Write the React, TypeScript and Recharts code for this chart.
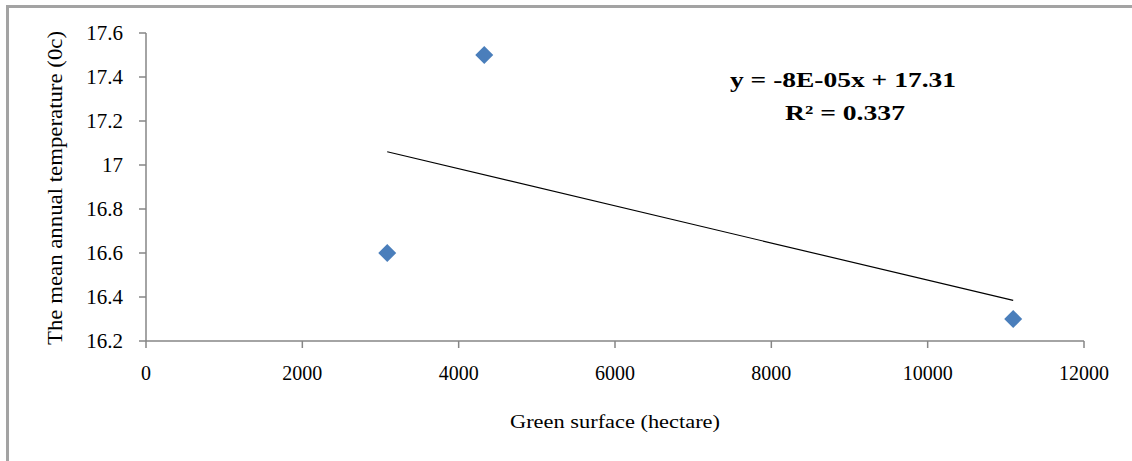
import React from "react";
import { ScatterChart, Scatter, XAxis, YAxis } from "recharts";

const greenSurface = [3086, 4327, 11094];
const meanTemp = [16.6, 17.5, 16.3];
const xTicks = [0, 2000, 4000, 6000, 8000, 10000, 12000];
const yTicks = [16.2, 16.4, 16.6, 16.8, 17, 17.2, 17.4, 17.6];
const equationText = "y = -8E-05x + 17.31";
const r2Text = "R\u00b2 = 0.337";

const points = greenSurface.map((x, i) => ({ x, y: meanTemp[i] }));

// least-squares trend line from the data
const n = greenSurface.length;
const mx = greenSurface.reduce((a, b) => a + b, 0) / n;
const my = meanTemp.reduce((a, b) => a + b, 0) / n;
let sxy = 0;
let sxx = 0;
for (let i = 0; i < n; i++) {
  sxy += (greenSurface[i] - mx) * (meanTemp[i] - my);
  sxx += (greenSurface[i] - mx) ** 2;
}
const slope = sxy / sxx;
const intercept = my - slope * mx;
const xMin = Math.min(...greenSurface);
const xMax = Math.max(...greenSurface);
const trendSegment = [
  { x: xMin, y: intercept + slope * xMin },
  { x: xMax, y: intercept + slope * xMax },
];

const FONT = "'Liberation Serif', 'Times New Roman', serif";

const Diamond = (props: any) => {
  const { cx, cy } = props;
  const s = 9;
  return (
    <path
      d={`M${cx},${cy - s} L${cx + s},${cy} L${cx},${cy + s} L${cx - s},${cy} Z`}
      fill="#4A7EBB"
    />
  );
};

const XTick = (props: any) => {
  const { x, y, payload } = props;
  return (
    <text x={x} y={y + 30} textAnchor="middle" fontFamily={FONT} fontSize={20} fill="#000">
      {payload.value}
    </text>
  );
};

const YTick = (props: any) => {
  const { x, y, payload } = props;
  return (
    <text x={x - 14} y={y + 7} textAnchor="end" fontFamily={FONT} fontSize={21} fill="#000">
      {payload.value}
    </text>
  );
};

export default function App() {
  return (
    <div style={{ position: "absolute", left: 0, top: 0, width: 1132, height: 461, overflow: "hidden", background: "#fff" }}>
      <div
        style={{
          position: "absolute",
          left: 6,
          top: 5,
          width: 1200,
          height: 600,
          borderLeft: "3px solid #a3a3a3",
          borderTop: "3px solid #a3a3a3",
        }}
      />
      <div style={{ position: "absolute", left: 0, top: 0 }}>
        <ScatterChart width={1132} height={461} margin={{ top: 33, right: 48, bottom: 60, left: 46 }}>
          <XAxis
            type="number"
            dataKey="x"
            domain={[0, 12000]}
            ticks={xTicks}
            interval={0}
            height={60}
            axisLine={{ stroke: "#868686", strokeWidth: 1.5 }}
            tickLine={{ stroke: "#868686", strokeWidth: 1.5 }}
            tickSize={7}
            tick={<XTick />}
            allowDataOverflow
          />
          <YAxis
            type="number"
            dataKey="y"
            domain={[16.2, 17.6]}
            ticks={yTicks}
            interval={0}
            width={100}
            axisLine={{ stroke: "#868686", strokeWidth: 1.5 }}
            tickLine={{ stroke: "#868686", strokeWidth: 1.5 }}
            tickSize={7}
            tick={<YTick />}
            allowDataOverflow
          />
          <Scatter
            data={trendSegment}
            line={{ stroke: "#000", strokeWidth: 1.2 }}
            shape={() => null}
            isAnimationActive={false}
          />
          <Scatter data={points} shape={<Diamond />} isAnimationActive={false} />
        </ScatterChart>
      </div>
      <svg style={{ position: "absolute", left: 0, top: 0 }} width={1132} height={461}>
        <text
          x={0}
          y={0}
          transform="translate(62,188) rotate(-90)"
          textAnchor="middle"
          fontFamily={FONT}
          fontSize={21}
          textLength={314}
          lengthAdjust="spacingAndGlyphs"
          fill="#000"
        >
          The mean annual temperature (0c)
        </text>
        <text
          x={615}
          y={428}
          textAnchor="middle"
          fontFamily={FONT}
          fontSize={19}
          textLength={210}
          lengthAdjust="spacingAndGlyphs"
          fill="#000"
        >
          Green surface (hectare)
        </text>
        <text
          x={843}
          y={87}
          textAnchor="middle"
          fontFamily={FONT}
          fontSize={22}
          fontWeight="bold"
          textLength={226}
          lengthAdjust="spacingAndGlyphs"
          fill="#000"
        >
          {equationText}
        </text>
        <text
          x={845}
          y={120}
          textAnchor="middle"
          fontFamily={FONT}
          fontSize={22}
          fontWeight="bold"
          textLength={120}
          lengthAdjust="spacingAndGlyphs"
          fill="#000"
        >
          {r2Text}
        </text>
      </svg>
    </div>
  );
}
